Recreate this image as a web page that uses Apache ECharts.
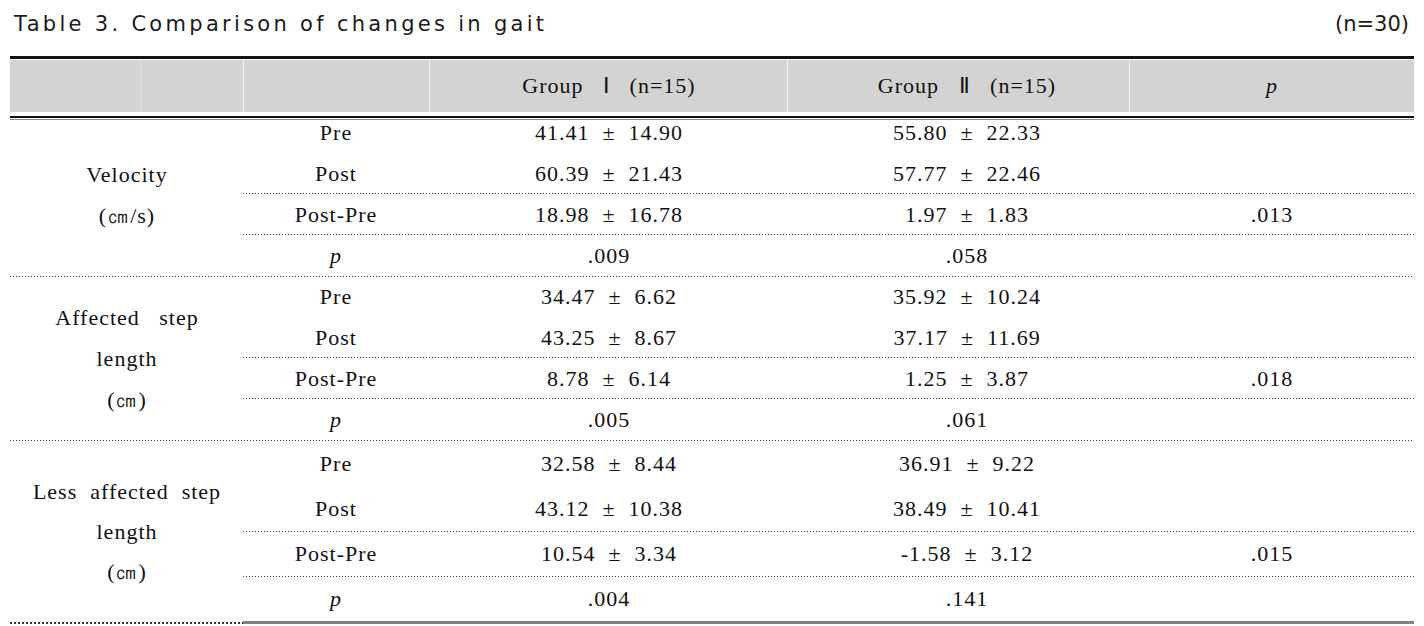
<!DOCTYPE html>
<html>
<head>
<meta charset="utf-8">
<script src="https://cdn.jsdelivr.net/npm/echarts/dist/echarts.min.js"></script>
<style>
html,body{margin:0;padding:0;background:#fff}
#c{width:1424px;height:626px}
#c svg text{letter-spacing:1px}
</style>
</head>
<body>
<div id="c"></div>
<script>
// ---------- data ----------
const tableTitle = 'Table 3. Comparison of changes in gait';
const sampleNote = '(n=30)';
const headers = ['', '', 'Group   Ⅰ   (n=15)', 'Group   Ⅱ   (n=15)', 'p'];
const measureLabels = [
  ['Velocity', '(㎝/s)'],
  ['Affected   step', 'length', '(㎝)'],
  ['Less  affected  step', 'length', '(㎝)']
];
const phases = ['Pre', 'Post', 'Post-Pre', 'p'];
const group1Mean = [[41.41, 60.39, 18.98], [34.47, 43.25, 8.78], [32.58, 43.12, 10.54]];
const group1SD   = [[14.90, 21.43, 16.78], [6.62, 8.67, 6.14], [8.44, 10.38, 3.34]];
const group2Mean = [[55.80, 57.77, 1.97], [35.92, 37.17, 1.25], [36.91, 38.49, -1.58]];
const group2SD   = [[22.33, 22.46, 1.83], [10.24, 11.69, 3.87], [9.22, 10.41, 3.12]];
const group1WithinP = [0.009, 0.005, 0.004];
const group2WithinP = [0.058, 0.061, 0.141];
const betweenP = [0.013, 0.018, 0.015];

// ---------- layout (style constants) ----------
const W = 1424, H = 626;
const tableLeft = 10, tableRight = 1414;
const colCenter = [127, 336, 609, 967, 1272];
const colBorders = [140, 243, 429, 787, 1129];
const headerTop = 60, headerBottom = 112, headerTextY = 85;
const topRuleY = 57, headRuleY = 116.5, headRuleY2 = 119.5;
const blockStart = [133, 297, 464];
const rowStep = [41, 41, 45.3];
const textShift = -1;

const fmtMS = (m, s) => m.toFixed(2) + '  ±  ' + s.toFixed(2);
const fmtP = p => p.toFixed(3).replace(/^0/, '');

const serif = "'Liberation Serif', 'Times New Roman', serif";
const textColor = '#111';
const textCells = [], italicCells = [], blockLabels = [];
const dotPartial = [], dotFull = [];
let bottomY = 0;

headers.forEach((h, i) => {
  if (!h) return;
  const pt = { value: [colCenter[i], headerTextY], name: h };
  if (h === 'p') italicCells.push(pt); else textCells.push(pt);
});

measureLabels.forEach((lbl, b) => {
  const y0 = blockStart[b], st = rowStep[b];
  const rowY = phases.map((_, r) => y0 + r * st);
  const ty = rowY.map(y => y + textShift);
  blockLabels.push({ value: [colCenter[0], (ty[0] + ty[3]) / 2 + 1], name: lbl.join('\n'), lh: b === 2 ? 40 : 41 });
  phases.forEach((ph, r) => {
    const y = ty[r];
    if (ph === 'p') italicCells.push({ value: [colCenter[1], y], name: ph });
    else textCells.push({ value: [colCenter[1], y], name: ph });
    if (r < 3) {
      textCells.push({ value: [colCenter[2], y], name: fmtMS(group1Mean[b][r], group1SD[b][r]) });
      textCells.push({ value: [colCenter[3], y], name: fmtMS(group2Mean[b][r], group2SD[b][r]) });
      if (r === 2) textCells.push({ value: [colCenter[4], y], name: fmtP(betweenP[b]) });
    } else {
      textCells.push({ value: [colCenter[2], y], name: fmtP(group1WithinP[b]) });
      textCells.push({ value: [colCenter[3], y], name: fmtP(group2WithinP[b]) });
    }
  });
  const l1 = rowY[1] + st / 2 - 1, l2 = rowY[2] + st / 2 - 1, l3 = rowY[3] + st / 2;
  dotPartial.push({ coords: [[colBorders[1], l1], [tableRight, l1]] });
  dotPartial.push({ coords: [[colBorders[1], l2], [tableRight, l2]] });
  if (b < 2) dotFull.push({ coords: [[tableLeft, l3], [tableRight, l3]] });
  else bottomY = l3;
});

const lineSeries = (data, style, z) => ({
  type: 'lines', coordinateSystem: 'cartesian2d', polyline: false, silent: true, z: z || 3,
  lineStyle: Object.assign({ opacity: 1 }, style), data, symbol: 'none'
});
const labelStyle = extra => Object.assign({
  show: true, position: 'inside', formatter: p => p.name, fontFamily: serif, fontSize: 22,
  color: textColor, align: 'center', verticalAlign: 'middle'
}, extra || {});
const titleStyle = { fontFamily: "'DejaVu Sans', sans-serif", fontSize: 21, fontWeight: 'normal', color: '#1a1a1a' };

const option = {
  animation: false,
  backgroundColor: '#fff',
  title: [
    { text: tableTitle, left: 9, top: 8, textStyle: titleStyle },
    { text: sampleNote, right: 10, top: 8, textStyle: titleStyle }
  ],
  grid: { left: 0, right: 0, top: 0, bottom: 0 },
  xAxis: { type: 'value', min: 0, max: W, show: false },
  yAxis: { type: 'value', min: 0, max: H, inverse: true, show: false },
  series: [
    {
      type: 'scatter', symbolSize: 0, silent: true, z: 5, itemStyle: { opacity: 1 },
      data: textCells,
      label: labelStyle(),
      markArea: {
        silent: true, z: 1,
        itemStyle: { color: '#d3d3d3', opacity: 1 },
        data: [[{ coord: [tableLeft, headerTop] }, { coord: [tableRight, headerBottom] }]]
      }
    },
    {
      type: 'scatter', symbolSize: 0, silent: true, z: 5, itemStyle: { opacity: 1 },
      data: italicCells,
      label: labelStyle({ fontStyle: 'italic' })
    },
    {
      type: 'scatter', symbolSize: 0, silent: true, z: 5, itemStyle: { opacity: 1 },
      data: blockLabels.map(d => ({ value: d.value, name: d.name, label: { lineHeight: d.lh } })),
      label: labelStyle()
    },
    lineSeries(colBorders.map((x, i) => ({ coords: [[x, headerTop], [x, headerBottom]], lineStyle: { color: i === 0 ? '#e0e0e0' : '#f4f4f4' } })), { width: 1, color: '#f4f4f4' }, 2),
    lineSeries([{ coords: [[tableLeft, topRuleY], [tableRight, topRuleY]] }], { width: 3, color: '#111' }),
    lineSeries([{ coords: [[tableLeft, headRuleY], [tableRight, headRuleY]] }], { width: 2, color: '#111' }),
    lineSeries([{ coords: [[tableLeft, headRuleY2], [tableRight, headRuleY2]] }], { width: 1, color: '#8a8a8a' }),
    lineSeries(dotPartial, { width: 1, color: '#444', type: [1, 2] }),
    lineSeries(dotFull, { width: 1, color: '#444', type: [1, 2] }),
    lineSeries([{ coords: [[tableLeft, bottomY], [colBorders[1], bottomY]] }], { width: 2, color: '#333', type: [2, 2] }),
    lineSeries([{ coords: [[colBorders[1], bottomY], [tableRight, bottomY]] }], { width: 3, color: '#808080' })
  ]
};
const chart = echarts.init(document.getElementById('c'), null, { renderer: 'svg' });
function applySpacing() {
  document.querySelectorAll('#c svg text').forEach(t => {
    const s = t.textContent;
    if (s === tableTitle) t.style.letterSpacing = '3.3px';
    else if (s === sampleNote) t.style.letterSpacing = '0px';
    else t.style.letterSpacing = '1px';
  });
}
chart.on('finished', applySpacing);
chart.setOption(option);
applySpacing();
</script>
</body>
</html>
